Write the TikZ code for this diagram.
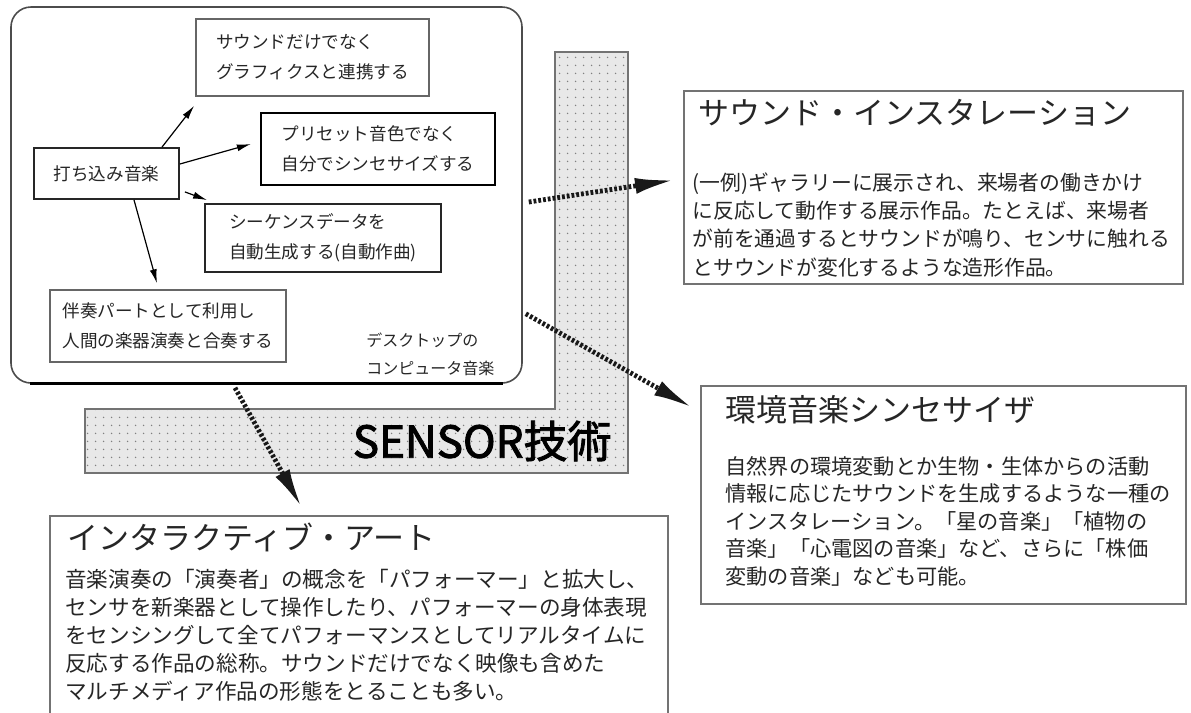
\documentclass[tikz,border=0pt]{standalone}
\usepackage{fontspec}
\setmainfont{Noto Sans CJK JP}
\newfontfamily\jpbold[FakeBold=2]{Noto Sans CJK JP}
\usetikzlibrary{arrows.meta,patterns.meta}
\begin{document}
\begin{tikzpicture}[x=0.5pt,y=-0.5pt,
  every node/.style={text=black!85},
  ibx/.style={draw=black!60, line width=0.75pt, inner sep=0pt, align=left, font=\fontsize{8.8}{15}\selectfont},
  bigbox/.style={draw=black!55, line width=0.9pt, inner sep=0pt, anchor=north west},
  ttl/.style={anchor=north west, inner sep=0pt, font=\fontsize{15.5}{18}\selectfont},
  body/.style={anchor=north west, inner sep=0pt, align=left, font=\fontsize{10.6}{14}\selectfont},
  sarr/.style={-{Latex[length=7pt,width=3.5pt]}, line width=0.6pt, black},
  darr/.style={-{Latex[length=20pt,width=8pt]}, line width=2.4pt, dash pattern=on 1.4pt off 1pt, black!90},
]
\useasboundingbox (0,0) rectangle (1191,713);
\fill[white] (0,0) rectangle (1191,713);

% SENSOR strip
\fill[black!9] (555,52) -- (628,52) -- (628,473) -- (85,473) -- (85,409) -- (555,409) -- cycle;
\fill[pattern={Dots[distance=4pt,radius=0.45pt]}, pattern color=black!50] (555,52) -- (628,52) -- (628,473) -- (85,473) -- (85,409) -- (555,409) -- cycle;
\draw[black!55, line width=0.7pt] (555,52) -- (628,52) -- (628,473) -- (85,473) -- (85,409) -- (555,409) -- cycle;
\node[anchor=east, inner sep=0pt, font=\jpbold\fontsize{22}{26}\selectfont, text=black] (sensor) at (612,441) {SENSOR技術};

% desktop computer music
\node[draw=black!70, line width=0.8pt, rounded corners=10pt, fill=white, minimum width=255.5pt, minimum height=188pt, inner sep=0pt] (desk) at (266.5,195) {};
\draw[line width=1.6pt] ([xshift=10pt]desk.south west) -- ([xshift=-10pt]desk.south east);

\node[ibx] (b1) at (312.5,57.5) [minimum width=116.5pt, minimum height=38.5pt] {サウンドだけでなく\\グラフィクスと連携する};
\node[ibx, draw=black, line width=1.1pt] (b2) at (378,149) [minimum width=117pt, minimum height=36pt] {プリセット音色でなく\\自分でシンセサイズする};
\node[ibx, draw=black!85, line width=0.9pt] (b3) at (323,238) [minimum width=118pt, minimum height=34pt] {シーケンスデータを\\自動生成する(自動作曲)};
\node[ibx] (b4) at (168,326) [minimum width=118pt, minimum height=36pt] {伴奏パートとして利用し\\人間の楽器演奏と合奏する};
\node[ibx, draw=black!85, line width=0.9pt] (ob) at (106.5,173.5) [minimum width=72.5pt, minimum height=25.5pt] {打ち込み音楽};
\node[anchor=north west, inner sep=0pt, align=left, font=\fontsize{8}{14}\selectfont] (dt) at (366,332) {デスクトップの\\コンピュータ音楽};

\draw[sarr] ([xshift=27.75pt]ob.north) -- ([shift={(-0.5pt,-4.5pt)}]b1.south west);
\draw[sarr] ([yshift=4.75pt]ob.east) -- ([shift={(-4.5pt,2.5pt)}]b2.west);
\draw[sarr] ([shift={(2.5pt,4pt)}]ob.south east) -- ([shift={(1.5pt,1.5pt)}]b3.north west);
\draw[sarr] ([xshift=13.75pt]ob.south) -- ([shift={(-5.5pt,3pt)}]b4.north);

% right boxes
\node[bigbox, minimum width=249.5pt, minimum height=96.5pt] (r1) at (683,90) {};
\node[ttl] (t1) at (698,99) {サウンド・インスタレーション};
\node[body, font=\fontsize{10.4}{14.2}\selectfont] (x1) at (692,172) {(一例)ギャラリーに展示され、来場者の働きかけ\\に反応して動作する展示作品。たとえば、来場者\\が前を通過するとサウンドが鳴り、センサに触れる\\とサウンドが変化するような造形作品。};

\node[bigbox, minimum width=242.5pt, minimum height=109pt] (r2) at (700,385) {};
\node[ttl] (t2) at (725,395) {環境音楽シンセサイザ};
\node[body, font=\fontsize{10.6}{13.75}\selectfont] (x2) at (725,456) {自然界の環境変動とか生物・生体からの活動\\情報に応じたサウンドを生成するような一種の\\インスタレーション。「星の音楽」「植物の\\音楽」「心電図の音楽」など、さらに「株価\\変動の音楽」なども可能。};

% bottom box (cut off by the page)
\node[anchor=north west, inner sep=0pt, minimum width=308.5pt, minimum height=100pt] (ibox) at (50,516) {};
\draw[black!55, line width=0.9pt] (ibox.south west) |- (ibox.north east) -- (ibox.south east);
\node[ttl] (t3) at (67,523) {インタラクティブ・アート};
\node[body, font=\fontsize{10.8}{14}\selectfont] (x3) at (65,569) {音楽演奏の「演奏者」の概念を「パフォーマー」と拡大し、\\センサを新楽器として操作したり、パフォーマーの身体表現\\をセンシングして全てパフォーマンスとしてリアルタイムに\\反応する作品の総称。サウンドだけでなく映像も含めた\\マルチメディア作品の形態をとることも多い。};

% dotted arrows
\draw[darr] ([shift={(3pt,-3.5pt)}]desk.east) -- ([shift={(-4pt,3.75pt)}]r1.west);
\draw[darr] ([shift={(1.5pt,35pt)}]desk.south east) -- ([shift={(-3.5pt,-11.5pt)}]r2.north west);
\draw[darr] ([shift={(-15.75pt,-2pt)}]desk.south) -- ([shift={(126pt,4pt)}]ibox.north west);
\end{tikzpicture}
\end{document}
